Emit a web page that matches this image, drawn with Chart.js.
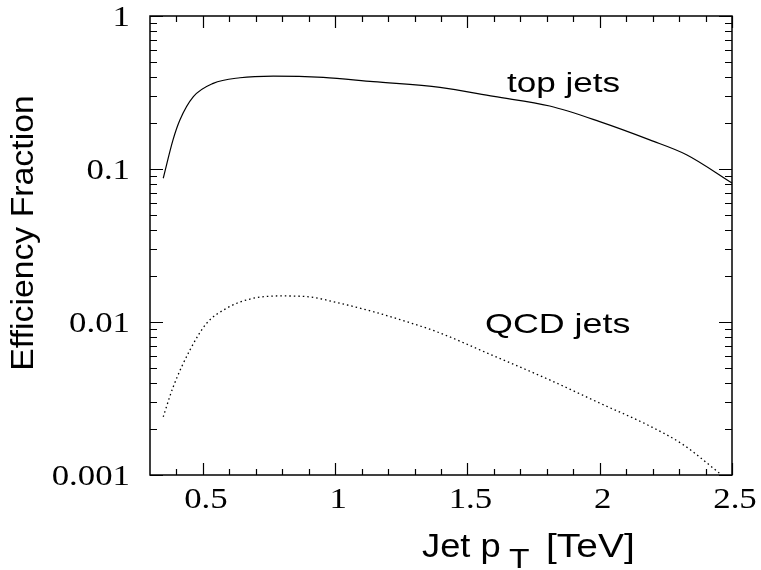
<!DOCTYPE html>
<html>
<head>
<meta charset="utf-8">
<script src="https://cdn.jsdelivr.net/npm/chart.js@4/dist/chart.umd.min.js"></script>
<style>
  body { margin: 0; background: #fff; }
  #myChart { display: block; }
</style>
</head>
<body>
<canvas id="myChart" width="761" height="570"></canvas>
<script>
// jet pT [TeV] and efficiency fraction
const topPt  = [0.35, 0.387, 0.413, 0.464, 0.539, 0.64, 0.766, 0.955, 1.144, 1.396, 1.6, 1.811, 2.0, 2.189, 2.328, 2.5];
const topEff = [0.087, 0.155, 0.209, 0.297, 0.363, 0.395, 0.405, 0.397, 0.372, 0.342, 0.298, 0.258, 0.204, 0.155, 0.124, 0.081];

const qcdPt  = [0.35, 0.388, 0.451, 0.514, 0.589, 0.678, 0.791, 0.892, 1.018, 1.144, 1.27, 1.383, 1.6, 1.811, 2.0, 2.189, 2.315, 2.455];
const qcdEff = [0.0024, 0.00378, 0.00656, 0.0098, 0.01228, 0.01413, 0.0148, 0.01465, 0.01325, 0.01168, 0.01005, 0.00865, 0.0060, 0.00418, 0.00295, 0.00209, 0.00158, 0.00102];

const xTicks = [0.5, 1, 1.5, 2, 2.5];
const xTickLabels = ['0.5', '1', '1.5', '2', '2.5'];
const xMinor = [0.4, 0.6, 0.7, 0.8, 0.9, 1.1, 1.2, 1.3, 1.4, 1.6, 1.7, 1.8, 1.9, 2.1, 2.2, 2.3, 2.4];
const yTicks = [0.001, 0.01, 0.1, 1];
const yTickLabels = ['0.001', '0.01', '0.1', '1'];

const serif = '"Liberation Serif", "DejaVu Serif", serif';
const sans = '"Liberation Sans", Arial, sans-serif';

(function(){
    const grafico = document.getElementById('myChart');

    // text drawn wider than the font, like the original picture
    function wideText(ctx, text, x, y, font, stretch, align) {
        ctx.save();
        ctx.font = font;
        const w = ctx.measureText(text).width * stretch;
        let x0 = x;
        if (align === 'center') x0 = x - w / 2;
        if (align === 'right') x0 = x - w;
        ctx.translate(x0, y);
        ctx.scale(stretch, 1);
        ctx.textAlign = 'left';
        ctx.fillText(text, 0, 0);
        ctx.restore();
        return w;
    }

    // frame, inward ticks and text labels
    const framePlugin = {
        id: 'frame',
        afterDraw(chart) {
            const ctx = chart.ctx;
            const a = chart.chartArea;
            const xs = chart.scales.x;
            const ys = chart.scales.y;
            ctx.save();
            ctx.strokeStyle = '#000';
            ctx.lineWidth = 1.5;
            ctx.strokeRect(a.left, a.top, a.right - a.left, a.bottom - a.top);

            ctx.lineWidth = 1.2;
            ctx.beginPath();
            const xMark = (v, len) => {
                const px = Math.round(xs.getPixelForValue(v)) + 0.5;
                ctx.moveTo(px, a.bottom); ctx.lineTo(px, a.bottom - len);
                ctx.moveTo(px, a.top); ctx.lineTo(px, a.top + len);
            };
            xTicks.forEach(v => xMark(v, 12));
            xMinor.forEach(v => xMark(v, 6));

            const yMark = (v, len) => {
                const py = Math.round(ys.getPixelForValue(v)) + 0.5;
                ctx.moveTo(a.left, py); ctx.lineTo(a.left + len, py);
                ctx.moveTo(a.right, py); ctx.lineTo(a.right - len, py);
            };
            yTicks.forEach(v => yMark(v, 13));
            for (let d = 0.001; d < 0.9; d *= 10) {
                for (let k = 2; k <= 9; k++) yMark(d * k, 7);
            }
            ctx.stroke();

            ctx.fillStyle = '#000';
            ctx.textBaseline = 'alphabetic';

            // tick labels
            const tickFont = '29px ' + serif;
            xTicks.forEach((v, i) => {
                wideText(ctx, xTickLabels[i], xs.getPixelForValue(v) + 3, a.bottom + 33, tickFont, 1.2, 'center');
            });
            yTicks.forEach((v, i) => {
                wideText(ctx, yTickLabels[i], a.left - 20, ys.getPixelForValue(v) + 10, tickFont, 1.2, 'right');
            });

            // curve labels
            wideText(ctx, 'top jets', 507, 92, '27px ' + sans, 1.3, 'left');
            wideText(ctx, 'QCD jets', 485, 333, '28px ' + sans, 1.28, 'left');

            // x title with subscript
            wideText(ctx, 'Jet p', 422, 557, '33px ' + sans, 1.1, 'left');
            wideText(ctx, 'T', 509, 568, '28px ' + sans, 1.2, 'left');
            wideText(ctx, '[TeV]', 546, 557, '33px ' + sans, 1.18, 'left');

            // y title
            ctx.save();
            ctx.translate(33, 233);
            ctx.rotate(-Math.PI / 2);
            wideText(ctx, 'Efficiency Fraction', 0, 0, '31px ' + sans, 1.09, 'center');
            ctx.restore();
            ctx.restore();
        }
    };

    const chartData = {
        datasets: [
            {
                label: 'top jets',
                data: topPt.map((x, i) => ({ x: x, y: topEff[i] })),
                borderColor: '#000',
                borderWidth: 1.2,
                pointRadius: 0,
                cubicInterpolationMode: 'monotone',
                fill: false
            },
            {
                label: 'QCD jets',
                data: qcdPt.map((x, i) => ({ x: x, y: qcdEff[i] })),
                borderColor: '#000',
                borderWidth: 1.3,
                borderDash: [1.5, 3],
                pointRadius: 0,
                cubicInterpolationMode: 'monotone',
                fill: false
            }
        ]
    };

    const config = {
        type: 'line',
        data: chartData,
        plugins: [framePlugin],
        options: {
            responsive: false,
            animation: false,
            layout: { padding: { left: 0, top: 16, right: 29, bottom: 0 } },
            plugins: { legend: { display: false }, tooltip: { enabled: false } },
            scales: {
                x: {
                    type: 'linear',
                    min: 0.3,
                    max: 2.5,
                    grid: { display: false },
                    border: { display: false },
                    afterBuildTicks: s => { s.ticks = xTicks.map(v => ({ value: v })); },
                    afterFit: s => { s.height = 95; s.paddingLeft = 0; s.paddingRight = 0; },
                    ticks: { display: false }
                },
                y: {
                    type: 'logarithmic',
                    min: 0.001,
                    max: 1,
                    grid: { display: false },
                    border: { display: false },
                    afterBuildTicks: s => { s.ticks = yTicks.map(v => ({ value: v })); },
                    afterFit: s => { s.width = 150; s.paddingTop = 0; s.paddingBottom = 0; },
                    ticks: { display: false }
                }
            }
        }
    };

    new Chart(grafico, config);
})();
</script>
</body>
</html>
